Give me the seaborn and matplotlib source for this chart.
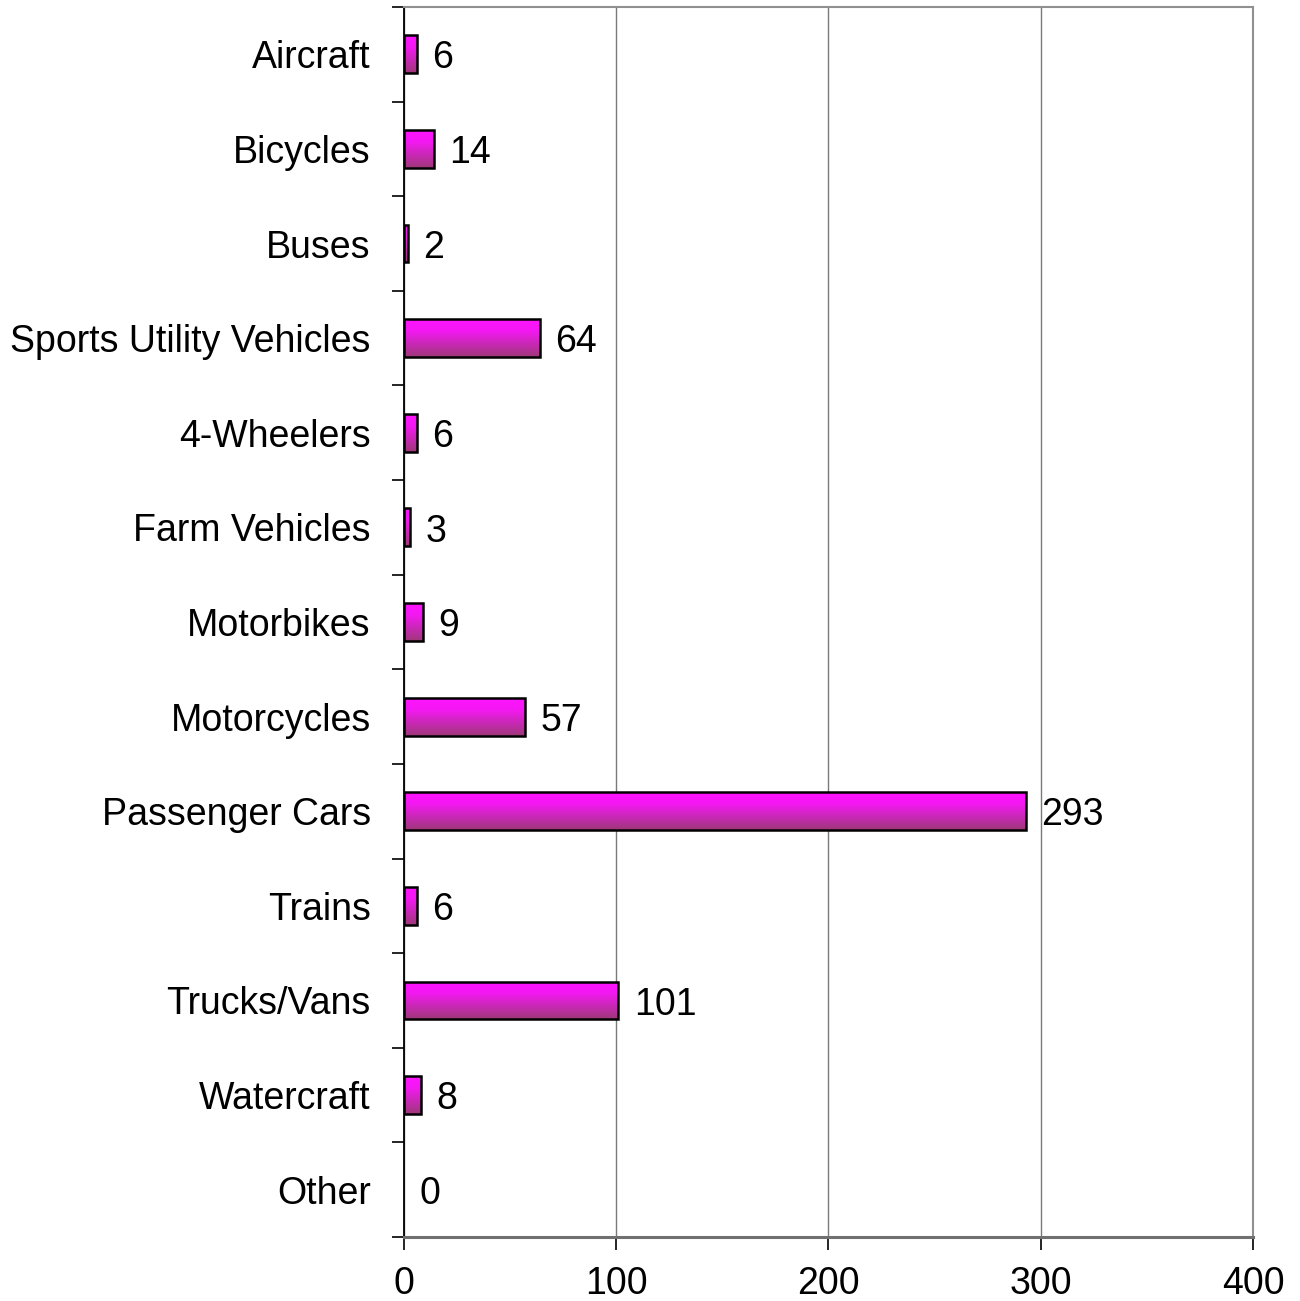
import numpy as np
import pandas as pd
import matplotlib
matplotlib.use("Agg")
import matplotlib.pyplot as plt
from matplotlib.colors import LinearSegmentedColormap
from matplotlib.ticker import FixedLocator
import seaborn as sns

# Data
categories = ['Aircraft', 'Bicycles', 'Buses', 'Sports Utility Vehicles', '4-Wheelers',
              'Farm Vehicles', 'Motorbikes', 'Motorcycles', 'Passenger Cars', 'Trains',
              'Trucks/Vans', 'Watercraft', 'Other']
counts = [6, 14, 2, 64, 6, 3, 9, 57, 293, 6, 101, 8, 0]
x_ticks = [0, 100, 200, 300, 400]

df = pd.DataFrame({'category': categories, 'count': counts})

sns.set_style('white')
plt.rcParams['font.family'] = ['Liberation Sans', 'DejaVu Sans']
plt.rcParams['text.color'] = 'black'
plt.rcParams['xtick.color'] = 'black'
plt.rcParams['ytick.color'] = 'black'

fig = plt.figure(figsize=(13, 13.01), dpi=100)
ax = fig.add_axes([0.3108, 0.0492, 0.6530, 0.9454])

sns.barplot(data=df, x='count', y='category', orient='h', width=0.4,
            color='#ff14ff', edgecolor='black', linewidth=1.8, ax=ax)

# vertical gradient fill inside each bar
grad_cmap = LinearSegmentedColormap.from_list(
    'bar_grad', [(0.0, '#ff14ff'), (0.3, '#f418f4'), (1.0, '#9e3878')])
grad = np.linspace(0, 1, 256).reshape(-1, 1)
for patch in list(ax.patches):
    x0, y0 = patch.get_x(), patch.get_y()
    w, h = patch.get_width(), patch.get_height()
    if w <= 0:
        patch.set_visible(False)
        continue
    im = ax.imshow(grad, cmap=grad_cmap, aspect='auto', interpolation='bilinear',
                   extent=[x0, x0 + w, y0 + h, y0], zorder=2)
    im.set_clip_path(patch)
    patch.set_facecolor('none')
    patch.set_zorder(3)

# value labels
for i, v in enumerate(counts):
    ax.annotate(str(v), xy=(v, i), xytext=(11, -3), textcoords='offset points',
                ha='left', va='center', fontsize=27, color='black')

ax.set_xlim(0, 400)
ax.set_ylim(len(categories) - 0.5, -0.5)
ax.set_xticks(x_ticks)
ax.set_xticklabels([str(t) for t in x_ticks], fontsize=27)
ax.set_xlabel('')
ax.set_ylabel('')

ax.set_yticks(range(len(categories)))
ax.set_yticklabels(categories, fontsize=27)
ax.tick_params(axis='y', which='major', length=0, pad=24, labelcolor='black')
ax.yaxis.set_minor_locator(FixedLocator(np.arange(-0.5, len(categories), 1.0)))
ax.tick_params(axis='y', which='minor', left=True, length=9, width=1.2, color='black')
ax.tick_params(axis='x', which='major', bottom=True, length=9, width=1.2,
               color='black', pad=12, labelcolor='black')

ax.grid(axis='x', color='#7a7a7a', linewidth=1.0, zorder=0)
ax.grid(axis='y', visible=False)
ax.set_axisbelow(True)

for side in ['top', 'right']:
    ax.spines[side].set_color('#909090')
    ax.spines[side].set_linewidth(1.5)
ax.spines['left'].set_color('black')
ax.spines['left'].set_linewidth(1.3)
ax.spines['bottom'].set_color('#707070')
ax.spines['bottom'].set_linewidth(2.2)

fig.savefig('out.png', dpi=100, facecolor='white')
